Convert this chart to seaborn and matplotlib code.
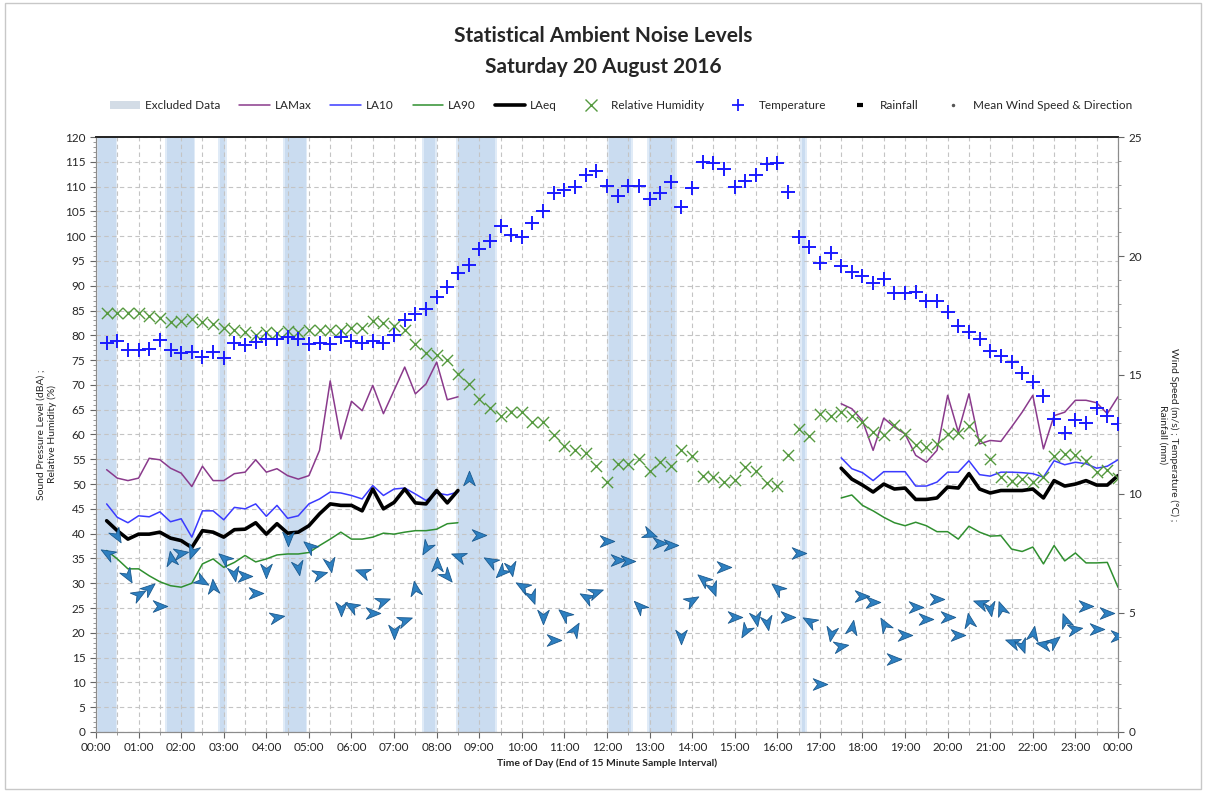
import numpy as np
import pandas as pd
import seaborn as sns
import matplotlib.pyplot as plt
from matplotlib.lines import Line2D
from matplotlib.patches import Patch, Rectangle
from matplotlib.path import Path
from matplotlib.markers import MarkerStyle
from matplotlib.transforms import Affine2D
from matplotlib.ticker import MultipleLocator

# end of each 15 minute sample, in hours
slot = np.arange(1, 97) * 0.25

# noise levels, two measured blocks (00:15-08:30 and 17:30-24:00)
am_slots = slot[0:34]
pm_slots = slot[69:96]

lamax_am = [52.9, 51.2, 50.7, 51.2, 55.2, 54.9, 53.2, 52.2, 49.5, 53.6, 50.7, 50.7, 52.1, 52.4, 54.9, 52.4, 53.1,
            51.7, 51.0, 51.7, 56.8, 70.8, 59.1, 66.7, 64.8, 69.9, 64.2, 68.9, 73.6, 68.2, 70.2, 74.6, 67.0, 67.6]
la10_am = [46.0, 43.3, 42.2, 43.6, 43.4, 44.4, 42.4, 43.0, 39.3, 44.6, 44.6, 42.8, 45.3, 45.0, 46.0, 43.5, 45.7,
           43.1, 43.6, 46.0, 47.0, 48.4, 48.2, 47.7, 47.0, 49.7, 47.7, 49.0, 49.2, 48.0, 46.7, 48.2, 47.8, 48.4]
la90_am = [36.6, 34.9, 32.9, 32.9, 31.5, 30.3, 29.5, 29.2, 30.0, 33.9, 34.9, 33.2, 34.2, 35.6, 34.3, 34.9, 35.7,
           35.9, 35.9, 36.2, 37.6, 38.9, 40.3, 38.9, 38.9, 39.3, 40.1, 39.9, 40.3, 40.6, 40.6, 40.9, 42.0, 42.2]
laeq_am = [42.6, 40.6, 38.9, 39.9, 39.9, 40.3, 39.1, 38.6, 37.2, 40.6, 40.3, 39.3, 40.8, 40.9, 42.2, 39.9, 42.0,
           40.1, 40.3, 41.6, 44.0, 46.0, 45.7, 45.7, 44.6, 49.0, 45.0, 46.3, 49.0, 46.2, 46.0, 48.7, 46.2, 48.7]

lamax_pm = [66.2, 65.2, 62.8, 56.8, 63.3, 61.5, 60.1, 55.8, 54.4, 56.8, 67.9, 60.5, 68.2, 58.1, 58.8, 58.6, 61.5,
            64.5, 67.9, 57.1, 63.8, 64.5, 66.9, 66.9, 66.4, 64.2, 67.6]
la10_pm = [55.3, 53.1, 52.3, 50.7, 52.5, 52.5, 52.5, 49.6, 49.6, 50.4, 52.4, 52.4, 54.7, 51.9, 51.6, 52.4, 52.4,
           52.3, 52.1, 51.4, 54.7, 53.9, 54.4, 54.1, 53.2, 53.6, 54.9]
la90_pm = [47.2, 47.8, 45.7, 44.6, 43.3, 42.2, 41.6, 42.3, 41.6, 40.4, 40.4, 38.9, 41.5, 40.3, 39.5, 39.6, 36.9,
           36.4, 37.3, 33.9, 37.6, 34.5, 36.1, 34.1, 34.1, 34.2, 29.2]
laeq_pm = [53.2, 51.0, 49.8, 48.4, 50.0, 49.0, 49.2, 46.9, 46.9, 47.2, 49.4, 49.2, 52.1, 49.0, 48.2, 48.7, 48.7,
           48.7, 49.0, 47.2, 50.7, 49.6, 50.0, 50.7, 49.8, 49.8, 51.7]

# weather, every sample
humidity = [84.5, 84.5, 84.5, 84.5, 83.9, 83.4, 82.6, 82.8, 83.2, 82.6, 82.2, 81.4, 81.0, 80.7, 80.1, 80.7, 80.5,
            80.8, 80.7, 81.0, 81.0, 81.0, 81.0, 81.4, 81.5, 82.8, 82.4, 81.9, 81.0, 78.3, 76.5, 76.0, 75.0, 72.3,
            70.2, 67.2, 65.3, 63.7, 64.5, 64.5, 62.6, 62.6, 59.8, 57.7, 56.8, 56.3, 53.6, 50.4, 54.1, 54.1, 55.1,
            52.7, 54.4, 53.6, 56.8, 55.6, 51.6, 51.4, 50.5, 50.9, 53.4, 52.7, 50.2, 49.6, 55.9, 61.2, 59.7, 64.2,
            63.7, 64.5, 63.7, 62.6, 60.6, 59.8, 62.0, 60.1, 57.8, 57.5, 58.1, 60.1, 60.3, 61.8, 58.8, 55.1, 51.4,
            50.7, 51.0, 50.4, 51.4, 55.6, 56.1, 55.9, 54.7, 52.4, 52.9, 51.2]
temperature = [16.36, 16.43, 16.05, 16.05, 16.11, 16.47, 16.05, 15.91, 15.97, 15.77, 15.97, 15.73, 16.36, 16.25,
               16.39, 16.53, 16.50, 16.61, 16.50, 16.29, 16.33, 16.29, 16.61, 16.43, 16.36, 16.43, 16.36, 16.67,
               17.31, 17.55, 17.79, 18.29, 18.69, 19.27, 19.63, 20.31, 20.63, 21.26, 20.87, 20.81, 21.37, 21.89,
               22.66, 22.77, 22.92, 23.39, 23.57, 22.94, 22.52, 22.94, 22.94, 22.38, 22.66, 23.11, 22.08, 22.87,
               23.95, 23.92, 23.64, 22.92, 23.15, 23.39, 23.85, 23.92, 22.69, 20.81, 20.39, 19.69, 20.11, 19.58,
               19.33, 19.16, 18.88, 19.05, 18.43, 18.43, 18.49, 18.11, 18.11, 17.65, 17.06, 16.81, 16.50, 16.00,
               15.80, 15.55, 15.07, 14.71, 14.12, 13.17, 12.55, 13.11, 12.97, 13.63, 13.28, 12.93]
wind_speed = [7.54, 8.24, 6.55, 5.79, 6.07, 5.29, 7.33, 7.54, 7.56, 6.34, 6.13, 7.33, 6.63, 6.55, 5.86, 6.76, 4.85,
              8.10, 6.91, 7.82, 6.63, 7.00, 5.16, 5.29, 6.72, 5.02, 5.50, 4.18, 4.71, 6.07, 7.71, 7.05, 6.55, 7.39,
              10.69, 8.26, 7.18, 6.72, 6.86, 6.13, 5.69, 4.81, 3.87, 4.95, 4.34, 5.69, 5.88, 8.03, 7.23, 7.18, 5.29,
              8.31, 7.96, 7.84, 3.97, 5.55, 6.44, 6.02, 6.95, 4.85, 4.24, 4.76, 4.57, 6.07, 4.81, 7.51, 4.66, 2.00,
              4.10, 3.61, 4.39, 5.71, 5.46, 4.53, 3.08, 4.06, 5.27, 4.74, 5.60, 4.85, 4.06, 4.71, 5.41, 5.16, 5.23,
              3.76, 3.61, 4.15, 3.68, 3.82, 4.71, 4.34, 5.29, 4.32, 4.99, 4.03]
# direction the arrow points, degrees anticlockwise from east
wind_dir = [150, -60, -60, 30, 40, 0, 100, 10, -110, -30, 95, 140, -80, 0, 0, -90, 10, -90, -80, 140, 15, -80, -90,
            150, 160, 0, 20, -90, 20, 100, -120, 90, -50, 160, 90, 0, 150, -135, -80, 150, -70, -90, 0, 140, 60, 150,
            20, 0, 0, 0, 135, -20, 0, 0, -90, 30, 140, -70, 0, 0, -120, -80, -80, 140, 0, 0, 150, 0, -100, 10, 80, 0,
            0, 120, 0, 0, 0, 0, 0, 0, 0, 100, 160, -80, 110, 160, -70, 80, 170, 40, 110, 10, 0, 0, 0, 0]

# excluded periods (hours)
excl_start = [0.0, 1.63, 2.87, 4.39, 7.66, 8.45, 12.0, 12.94, 16.53]
excl_end = [0.5, 2.33, 3.08, 4.96, 8.0, 9.42, 12.61, 13.64, 16.70]

sns.set_style("white")
plt.rcParams["font.family"] = ["Lato", "DejaVu Sans"]

noise = pd.concat([
    pd.DataFrame({"t": am_slots, "LAMax": lamax_am, "LA10": la10_am, "LA90": la90_am, "LAeq": laeq_am, "seg": 0}),
    pd.DataFrame({"t": pm_slots, "LAMax": lamax_pm, "LA10": la10_pm, "LA90": la90_pm, "LAeq": laeq_pm, "seg": 1}),
])
weather = pd.DataFrame({"t": slot, "rh": humidity, "temp": temperature, "ws": wind_speed, "wd": wind_dir})

fig = plt.figure(figsize=(12.06, 7.92), dpi=100)
ax = fig.add_axes([0.0796, 0.0758, 0.8474, 0.7512])
ax2 = ax.twinx()

# soft edged bands for excluded data
for s, e in zip(excl_start, excl_end):
    ax.axvspan(s, e, color="#e0ebf7", lw=0, zorder=0)
    ax.axvspan(s + 0.04, e - 0.04, color="#cadcf0", lw=0, zorder=0)

styles = {"LAMax": ("#8a3a8c", 1.1), "LA10": ("#3a3aff", 1.1), "LA90": ("#2f8f2f", 1.1), "LAeq": ("black", 2.6)}
for col, (c, lw) in styles.items():
    sns.lineplot(data=noise, x="t", y=col, units="seg", estimator=None, color=c, lw=lw, ax=ax, zorder=3)

sns.scatterplot(data=weather, x="t", y="rh", marker="x", s=65, color="#55993f", linewidth=1.0, ax=ax, zorder=4)
sns.scatterplot(data=weather, x="t", y="temp", marker="+", s=110, color="#1a1aff", linewidth=1.4, ax=ax2, zorder=4)

# wind arrows
head = Path([(1.0, 0.0), (-1.0, 0.8), (-0.4, 0.0), (-1.0, -0.8), (1.0, 0.0)],
            [Path.MOVETO, Path.LINETO, Path.LINETO, Path.LINETO, Path.CLOSEPOLY])
for t, v, d in zip(weather.t, weather.ws, weather.wd):
    m = MarkerStyle(head, transform=Affine2D().rotate_deg(d))
    ax2.plot(t, v, marker=m, ms=10.5, color="#2d7fc0", mec="#1b5a8f", mew=0.6, ls="none", zorder=5)

ax.set_xlim(0, 24)
ax.set_ylim(0, 120)
ax2.set_ylim(0, 25)
ax.xaxis.set_major_locator(MultipleLocator(1))
ax.xaxis.set_minor_locator(MultipleLocator(0.5))
ax.set_xticklabels([f"{int(h) % 24:02d}:00" for h in ax.get_xticks()])
ax.yaxis.set_major_locator(MultipleLocator(5))
ax.yaxis.set_minor_locator(MultipleLocator(1))
ax2.yaxis.set_major_locator(MultipleLocator(5))
ax2.yaxis.set_minor_locator(MultipleLocator(1))

ax.grid(which="major", axis="y", ls=(0, (4, 3)), color="#c4c4c4", lw=0.8)
ax.grid(which="both", axis="x", ls=(0, (4, 3)), color="#c4c4c4", lw=0.8)
ax.set_axisbelow(True)

ax.tick_params(axis="both", which="major", labelsize=8.5, length=4, color="#666666", left=True, bottom=True)
ax.tick_params(axis="both", which="minor", length=2, color="#888888", left=True, bottom=True)
ax2.tick_params(axis="y", which="major", labelsize=8.5, length=4, color="#666666", right=True)
ax2.tick_params(axis="y", which="minor", length=2, color="#888888", right=True)

for a in (ax, ax2):
    for sp in a.spines.values():
        sp.set_color("#8c8c8c")
        sp.set_linewidth(0.8)
    a.spines["top"].set_color("#222222")
    a.spines["top"].set_linewidth(1.2)

ax.set_xlabel("Time of Day (End of 15 Minute Sample Interval)", fontsize=7.5, fontweight="bold", labelpad=4)
ax.set_ylabel("Sound Pressure Level (dBA) ;\nRelative Humidity (%)", fontsize=7.5, labelpad=6)
ax2.set_ylabel("Wind Speed (m/s) ; Temperature (\u00b0C) ;\nRainfall (mm)", fontsize=7.5, rotation=270, labelpad=26)

fig.suptitle("Statistical Ambient Noise Levels\nSaturday 20 August 2016", y=0.967, fontsize=15,
             fontweight="bold", linespacing=1.7)

handles = [
    Patch(facecolor="#d3dce6", edgecolor="none", label="Excluded Data"),
    Line2D([], [], color="#8a3a8c", lw=1.1, label="LAMax"),
    Line2D([], [], color="#3a3aff", lw=1.1, label="LA10"),
    Line2D([], [], color="#2f8f2f", lw=1.1, label="LA90"),
    Line2D([], [], color="black", lw=2.6, label="LAeq"),
    Line2D([], [], color="#55993f", marker="x", ls="none", ms=8, label="Relative Humidity"),
    Line2D([], [], color="#1a1aff", marker="+", ls="none", ms=9, mew=1.3, label="Temperature"),
    Line2D([], [], color="black", marker="_", ls="none", ms=5, mew=3, label="Rainfall"),
    Line2D([], [], color="#555555", marker=".", ls="none", ms=3, label="Mean Wind Speed & Direction"),
]
fig.legend(handles=handles, loc="center", bbox_to_anchor=(0.515, 0.867), ncol=9, frameon=False,
           fontsize=8.5, handlelength=2.6, columnspacing=1.6, handletextpad=0.4)

fig.patches.append(Rectangle((0.004, 0.004), 0.992, 0.992, transform=fig.transFigure, fill=False,
                             edgecolor="#c8c8c8", lw=1))

fig.savefig("out.png", dpi=100)
